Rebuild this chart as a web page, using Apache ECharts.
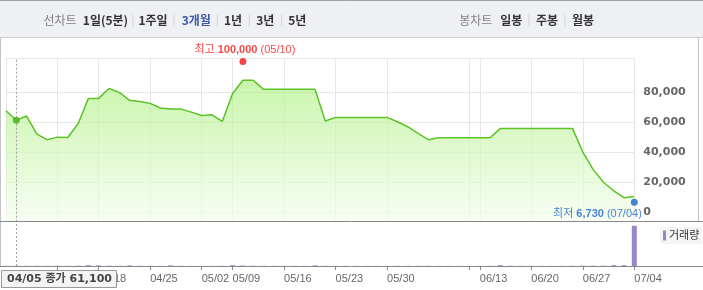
<!DOCTYPE html>
<html><head><meta charset="utf-8">
<script src="https://cdn.jsdelivr.net/npm/echarts@6/dist/echarts.min.js"></script>
<style>html,body{margin:0;padding:0;background:#fff}#c{width:703px;height:290px}</style>
</head><body><div id="c"></div>
<script>
const dates = ['04/04','04/05','04/06','04/07','04/08','04/11','04/12','04/14','04/15','04/18','04/19','04/20','04/21','04/22','04/25','04/26','04/27','04/28','04/29','05/02','05/03','05/04','05/09','05/10','05/11','05/12','05/13','05/16','05/17','05/18','05/19','05/20','05/23','05/24','05/25','05/26','05/27','05/30','05/31','06/01','06/02','06/03','06/07','06/08','06/09','06/10','06/13','06/14','06/15','06/16','06/17','06/20','06/21','06/22','06/23','06/24','06/27','06/28','06/29','06/30','07/01','07/04'];
const closes = [67400,61100,63900,51900,48200,49900,49700,58800,75600,75600,82200,79600,74300,73600,72300,69200,68500,68500,66500,64300,64700,60300,78900,87600,87600,81600,81600,81600,81600,81600,81600,60600,63000,63000,63000,63000,63000,63000,60100,56800,52400,48200,49500,49500,49500,49500,49500,49500,55700,55700,55700,55700,55700,55700,55700,55700,40000,28500,20000,14300,9700,10500];
const volumes = [0.5,0.4,0.4,0.5,0.4,0.4,0.3,0.6,2,1.5,0.8,0.5,1.5,0.5,0.4,0.4,1.5,0.4,0.3,0.3,0.3,0.5,2,1.2,0.6,0.5,0.4,0.4,0.4,0.3,1.5,0.5,0.4,0.3,0.3,0.3,0.3,0.3,0.4,0.4,0.4,0.5,0.3,0.3,0.3,0.3,0.3,0.5,2,0.6,0.4,0.4,0.3,0.3,0.3,0.4,0.8,0.8,0.8,2,2,100];
const priceTicks = [0,20000,40000,60000,80000];
const labeledDates = ['04/11','04/18','04/25','05/02','05/09','05/16','05/23','05/30','06/13','06/20','06/27','07/04'];
const unlabeledTickDates = ['06/10'];
const high = ['05/10', 100000];
const low = ['07/04', 6730];
const selected = '04/05';
const lineTabs = ['1일(5분)','1주일','3개월','1년','3년','5년'];
const candleTabs = ['일봉','주봉','월봉'];

const fmt = v => Number(v).toLocaleString('en-US');
const selIdx = dates.indexOf(selected);
const tickDates = labeledDates.concat(unlabeledTickDates);
const gridDates = [dates[0]].concat(tickDates);
const KR = 'Liberation Sans, Noto Sans CJK KR, sans-serif';

const chart = echarts.init(document.getElementById('c'));

// header graphics
const g = [];
g.push({type:'rect', shape:{x:0,y:0,width:703,height:38}, style:{fill:'#eff0f4'}, z:100});
g.push({type:'line', shape:{x1:0,y1:0.5,x2:703,y2:0.5}, style:{stroke:'#9da1a8'}, z:101});
g.push({type:'line', shape:{x1:0,y1:37.5,x2:703,y2:37.5}, style:{stroke:'#c8cbd2'}, z:101});
const hdrText = (x, t, color, weight) => ({type:'text', x:x, y:20.5, z:102, style:{text:t, fill:color, font:`${weight} 12px "Noto Sans CJK KR", sans-serif`, align:'center', verticalAlign:'middle'}});
const sep = x => ({type:'line', shape:{x1:x,y1:14.5,x2:x,y2:26.5}, style:{stroke:'#d3d6dc'}, z:102});
g.push(hdrText(60, '선차트', '#808080', 'normal'));
const lineX = [105.5,153,196.3,233,265.3,297.3];
const lineSep = [133,174,217.3,249.3,281.7];
lineTabs.forEach((t,i)=>g.push(hdrText(lineX[i], t, t==='3개월' ? '#3b58a8' : '#333', 'bold')));
lineSep.forEach(x=>g.push(sep(x)));
g.push(hdrText(475.8, '봉차트', '#808080', 'normal'));
const candleX = [511.3,547,583];
const candleSep = [529,565];
candleTabs.forEach((t,i)=>g.push(hdrText(candleX[i], t, '#333', 'bold')));
candleSep.forEach(x=>g.push(sep(x)));
// frame lines
g.push({type:'line', shape:{x1:0.5,y1:38,x2:0.5,y2:267}, style:{stroke:'#c3c3c3'}, z:50});
g.push({type:'line', shape:{x1:698.5,y1:38,x2:698.5,y2:221}, style:{stroke:'#c3c3c3'}, z:50});
g.push({type:'line', shape:{x1:0,y1:221.5,x2:703,y2:221.5}, style:{stroke:'#888'}, z:50});
g.push({type:'line', shape:{x1:0,y1:266.5,x2:703,y2:266.5}, style:{stroke:'#888'}, z:50});
// tooltip box
g.push({type:'rect', shape:{x:1.5,y:270.5,width:115,height:17}, style:{fill:'#f4f4f4', stroke:'#999'}, z:100});
g.push({type:'text', x:7, y:279.5, z:101, style:{text:`${selected} 종가 ${fmt(closes[selIdx])}`, fill:'#444', font:'bold 11px "DejaVu Sans", "Noto Sans CJK KR", sans-serif', verticalAlign:'middle'}});

const crossLine = {silent:true, symbol:'none', label:{show:false}, lineStyle:{color:'#a0a0a0', type:[2,2], width:1}, data:[{xAxis:selected}]};

const option = {
  animation:false,
  textStyle:{fontFamily:KR},
  grid:[{left:6,right:68.7,top:58.3,bottom:68.3},{left:6,right:68.7,top:221.7,bottom:24}],
  legend:{data:['거래량'], left:660, top:227, icon:'rect', itemWidth:3, itemHeight:10, itemGap:0, padding:[3,3,3,3], backgroundColor:'#f5f5f5', selectedMode:false, textStyle:{fontSize:11, color:'#333', padding:[0,0,0,-2]}},
  xAxis:[
    {type:'category', gridIndex:0, data:dates, boundaryGap:false, axisLine:{show:false}, axisTick:{show:false}, axisLabel:{show:false},
     splitLine:{show:true, interval:(i,v)=>gridDates.includes(v), lineStyle:{color:'#e6e6e6'}}},
    {type:'category', gridIndex:1, data:dates, boundaryGap:false, axisLine:{show:false},
     axisTick:{show:true, interval:(i,v)=>tickDates.includes(v), length:4, lineStyle:{color:'#888'}},
     axisLabel:{interval:(i,v)=>labeledDates.includes(v), align:'left', margin:7, fontSize:11, color:'#666', fontFamily:'Liberation Sans'},
     splitLine:{show:false}}
  ],
  yAxis:[
    {type:'value', gridIndex:0, position:'right', min:-6200, max:102200, axisLine:{show:false},
     axisTick:{show:false, customValues:priceTicks.concat([102200])},
     axisLabel:{customValues:priceTicks, formatter:v=>fmt(v), fontWeight:'bold', fontSize:11, color:'#666', margin:9, fontFamily:'DejaVu Sans'},
     splitLine:{show:true, lineStyle:{color:'#e6e6e6'}}},
    {type:'value', gridIndex:1, min:0, max:110, show:false, splitLine:{show:false}}
  ],
  series:[
    {name:'종가', type:'line', xAxisIndex:0, yAxisIndex:0, data:closes, symbol:'none',
     lineStyle:{color:'#5bc324', width:1.5},
     areaStyle:{origin:'start', color:new echarts.graphic.LinearGradient(0,0,0,1,[{offset:0,color:'#b2f088'},{offset:1,color:'#f3fdee'}])},
     markLine:crossLine},
    {type:'scatter', xAxisIndex:0, yAxisIndex:0, data:[[selected, closes[selIdx]]], symbolSize:7, itemStyle:{color:'#4aae19'}, z:5},
    {type:'scatter', xAxisIndex:0, yAxisIndex:0, data:[high], symbolSize:7, itemStyle:{color:'#f21818'}, z:5,
     label:{show:true, position:[5.5,-8.5], align:'center', verticalAlign:'middle',
       formatter:p=>`{a|최고 }{b|${fmt(p.value[1])}}{a| (${p.value[0]})}`,
       rich:{a:{color:'#f21818', fontSize:11, fontFamily:KR}, b:{color:'#f21818', fontSize:11, fontWeight:'bold', fontFamily:KR}}}},
    {type:'scatter', xAxisIndex:0, yAxisIndex:0, data:[low], symbolSize:7, itemStyle:{color:'#1a66d6'}, z:5,
     label:{show:true, position:[11,15], align:'right', verticalAlign:'middle',
       formatter:p=>`{a|최저 }{b|${fmt(p.value[1])}}{a| (${p.value[0]})}`,
       rich:{a:{color:'#1a66d6', fontSize:11, fontFamily:KR}, b:{color:'#1a66d6', fontSize:11, fontWeight:'bold', fontFamily:KR}}}},
    {name:'거래량', type:'bar', xAxisIndex:1, yAxisIndex:1, data:volumes, barWidth:5, itemStyle:{color:'#9b85c9'}, markLine:crossLine}
  ],
  graphic:g
};
chart.setOption(option);
</script></body></html>
